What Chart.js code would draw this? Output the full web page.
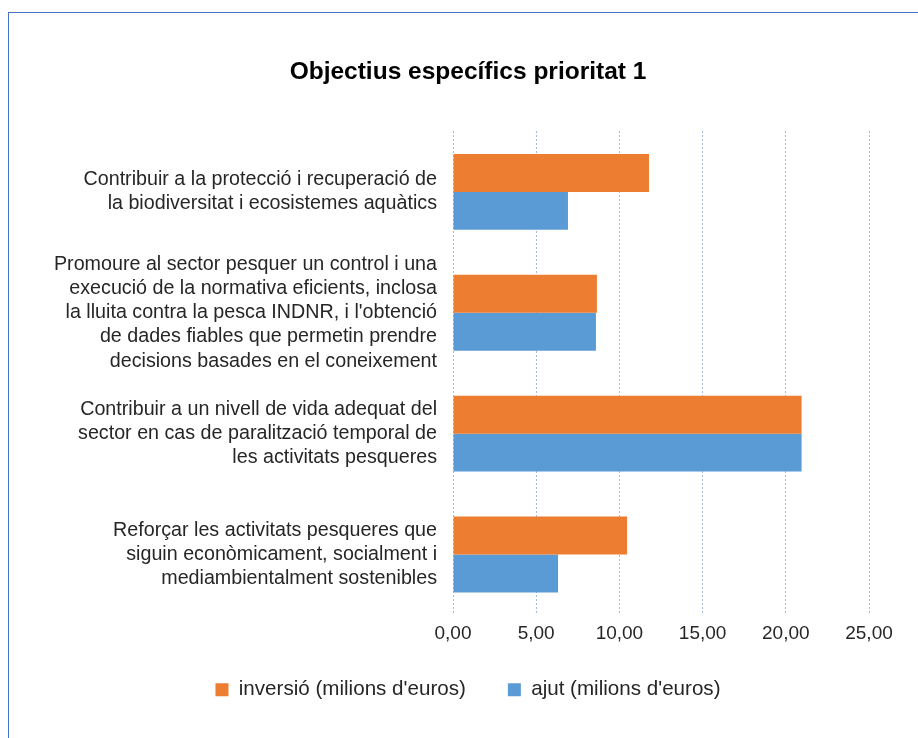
<!DOCTYPE html>
<html>
<head>
<meta charset="utf-8">
<script src="https://cdn.jsdelivr.net/npm/chart.js@4"></script>
<style>
  html, body { margin: 0; padding: 0; background: #fff; width: 918px; height: 738px; overflow: hidden; }
  #frame { position: absolute; left: 8px; top: 12px; width: 920px; height: 740px;
           border-left: 1px solid #4472C4; border-top: 1px solid #4472C4; }
  #wrap { position: absolute; left: 0; top: 0; width: 918px; height: 738px; }
</style>
</head>
<body>
<div id="frame"></div>
<div id="wrap"><canvas id="c" width="918" height="738"></canvas></div>
<script>
const categories = [
  ["Contribuir a la protecció i recuperació de", "la biodiversitat i ecosistemes aquàtics"],
  ["Promoure al sector pesquer un control i una", "execució de la normativa eficients, inclosa", "la lluita contra la pesca INDNR, i l'obtenció", "de dades fiables que permetin prendre", "decisions basades en el coneixement"],
  ["Contribuir a un nivell de vida adequat del", "sector en cas de paralització temporal de", "les activitats pesqueres"],
  ["Reforçar les activitats pesqueres que", "siguin econòmicament, socialment i", "mediambientalment sostenibles"]
];
const inversio = [11.78, 8.65, 20.95, 10.46];
const ajut = [6.91, 8.59, 20.95, 6.31];
const seriesNames = ["inversió (milions d'euros)", "ajut (milions d'euros)"];
const chartTitle = "Objectius específics prioritat 1";

const FONT = "'Liberation Sans', Arial, Helvetica, sans-serif";
const PAD_L = 67;

new Chart(document.getElementById('c'), {
  type: 'bar',
  data: {
    labels: categories,
    datasets: [
      { label: seriesNames[0], data: inversio, backgroundColor: '#ED7D31', borderWidth: 0,
        categoryPercentage: 0.628, barPercentage: 1 },
      { label: seriesNames[1], data: ajut, backgroundColor: '#5B9BD5', borderWidth: 0,
        categoryPercentage: 0.628, barPercentage: 1 }
    ]
  },
  options: {
    indexAxis: 'y',
    responsive: false,
    animation: false,
    devicePixelRatio: 1,
    layout: { padding: { top: 50, left: PAD_L, right: 49, bottom: 28 } },
    plugins: {
      title: {
        display: true, text: chartTitle, color: '#000',
        font: { family: FONT, size: 24.5, weight: 'bold', lineHeight: 1.2 },
        padding: { top: 7.3, bottom: 44.8 }
      },
      legend: {
        display: true, position: 'bottom',
        labels: {
          color: '#262626', boxWidth: 13, boxHeight: 13, padding: 42,
          font: { family: FONT, size: 20.6 }
        }
      },
      tooltip: { enabled: false }
    },
    scales: {
      x: {
        min: 0, max: 25,
        ticks: { stepSize: 5, color: '#262626', padding: 7, font: { family: FONT, size: 19 },
                 callback: v => v.toFixed(2).replace('.', ',') },
        grid: { color: '#4472C4', lineWidth: 1, drawTicks: false },
        border: { display: false, dash: [1, 3] },
        afterFit: s => {
          s.height = 22.5;
          s._computeLabelArea = () => undefined;
        }
      },
      y: {
        ticks: { color: '#262626', padding: 16, crossAlign: 'near', autoSkip: false,
                 font: { family: FONT, size: 19.7, lineHeight: 1.233 } },
        grid: { display: false, drawTicks: false },
        border: { display: false },
        afterFit: s => {
          s.width = 453 - PAD_L;
          s._computeLabelArea = () => undefined;
        }
      }
    }
  }
});
</script>
</body>
</html>
